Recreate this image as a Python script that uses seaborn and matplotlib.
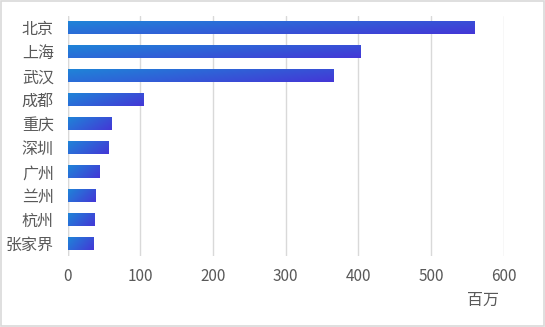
import numpy as np
import pandas as pd
import matplotlib
matplotlib.use("Agg")
import matplotlib.pyplot as plt
import seaborn as sns
from matplotlib.colors import LinearSegmentedColormap
from matplotlib.patches import Rectangle

cities = ["北京", "上海", "武汉", "成都", "重庆", "深圳", "广州", "兰州", "杭州", "张家界"]
values = [559, 402, 366, 104, 60, 56, 43, 38, 36, 35]
x_ticks = [0, 100, 200, 300, 400, 500, 600]
unit_label = "百万"

sns.set_theme(style="white")
plt.rcParams["font.family"] = ["Noto Sans CJK SC", "DejaVu Sans"]

df = pd.DataFrame({"city": cities, "value": values})

fig = plt.figure(figsize=(5.45, 3.27), dpi=100)
ax = fig.add_axes([0.1243, 0.218, 0.8, 0.734])

sns.barplot(data=df, x="value", y="city", orient="h", width=0.53,
            color="#2f6fd8", ax=ax)

# gradient fill for each bar: light blue top-left to violet bottom-right
cmap = LinearSegmentedColormap.from_list("bar", ["#1f84d8", "#4437d6"])
xf = np.linspace(0, 1, 200)[None, :]
yf = np.linspace(0, 1, 20)[:, None]
grad = np.clip(0.7 * xf + 0.3 * yf, 0, 1)
for p in list(ax.patches):
    x0, y0 = p.get_x(), p.get_y()
    w, h = p.get_width(), p.get_height()
    im = ax.imshow(grad, cmap=cmap, vmin=0, vmax=1, aspect="auto",
                   extent=[x0, x0 + w, y0 + h, y0], origin="upper",
                   interpolation="bilinear", zorder=2)
    im.set_clip_path(p)
    p.set_facecolor("none")
    p.set_edgecolor("none")

ax.set_xlim(0, 600)
ax.set_ylim(len(cities) - 0.5, -0.5)
ax.set_xticks(x_ticks)
ax.set_xticklabels([str(t) for t in x_ticks])
ax.grid(axis="x", color="#d9d9d9", linewidth=1.0)
ax.set_axisbelow(True)
for side in ["top", "right", "bottom", "left"]:
    ax.spines[side].set_visible(False)
ax.axvline(0, color="#d9d9d9", linewidth=1.0, zorder=1)
ax.set_xlabel("")
ax.set_ylabel("")
ax.tick_params(axis="x", length=0, pad=9, labelsize=11, labelcolor="#595959")
ax.tick_params(axis="y", length=0, pad=10, labelsize=11.5, labelcolor="#595959")

fig.text(483 / 545, 1 - 300 / 327, unit_label, ha="center", va="center",
         fontsize=11.5, color="#595959")

# thin light frame around the chart
fig.patches.append(Rectangle((0.001, 0.002), 0.997, 0.995, transform=fig.transFigure,
                             fill=False, edgecolor="#d9d9d9", linewidth=1.2))

fig.savefig("out.png", dpi=100)
